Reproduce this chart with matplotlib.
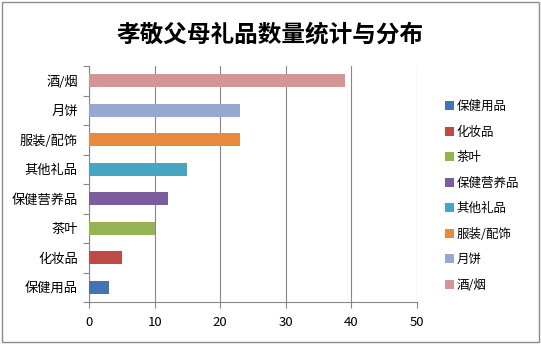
import matplotlib.pyplot as plt
from matplotlib.patches import Rectangle

plt.rcParams['font.family'] = ['Noto Sans CJK SC', 'DejaVu Sans']

# gift categories, bottom to top
categories = ['保健用品', '化妆品', '茶叶', '保健营养品', '其他礼品', '服装/配饰', '月饼', '酒/烟']
counts = [3, 5, 10, 12, 15, 23, 23, 39]
colors = ['#4573B1', '#BD4A47', '#94B454', '#7B5D9D', '#46A5BF', '#E88A3E', '#95A9D0', '#D59594']

fig = plt.figure(figsize=(5.41, 3.44), dpi=100)
ax = fig.add_axes([0.1645, 0.122, 0.6063, 0.686])

for i, (cat, val, col) in enumerate(zip(categories, counts, colors)):
    ax.barh(i, val, height=0.45, color=col, label=cat, zorder=3)

ax.set_xlim(0, 50)
ax.set_ylim(-0.5, len(categories) - 0.5)
ax.set_xticks(range(0, 51, 10))
ax.set_yticks(range(len(categories)))
ax.set_yticklabels(categories)
ax.set_yticks([i - 0.5 for i in range(len(categories) + 1)], minor=True)

ax.grid(axis='x', color='#868686', linewidth=0.8, zorder=0)
ax.tick_params(axis='y', which='major', length=0, labelsize=9.5, pad=8)
ax.tick_params(axis='y', which='minor', length=4, color='#868686', width=0.8)
ax.tick_params(axis='x', length=4, color='#868686', width=0.8, labelsize=9.5, pad=6)

for side in ['top', 'right']:
    ax.spines[side].set_visible(False)
for side in ['left', 'bottom']:
    ax.spines[side].set_color('#868686')
    ax.spines[side].set_linewidth(0.8)

fig.suptitle('孝敬父母礼品数量统计与分布', fontsize=17, fontweight='bold', y=0.935)

leg = ax.legend(loc='center left', bbox_to_anchor=(1.05, 0.45), frameon=False,
                fontsize=9, handlelength=0.75, handleheight=0.75, handletextpad=0.2,
                labelspacing=1.0)

# outer chart border
fig.patches.append(Rectangle((0.004, 0.006), 0.992, 0.988, transform=fig.transFigure,
                             fill=False, edgecolor='#8c8c8c', linewidth=1))

fig.savefig('out.png', dpi=100)
